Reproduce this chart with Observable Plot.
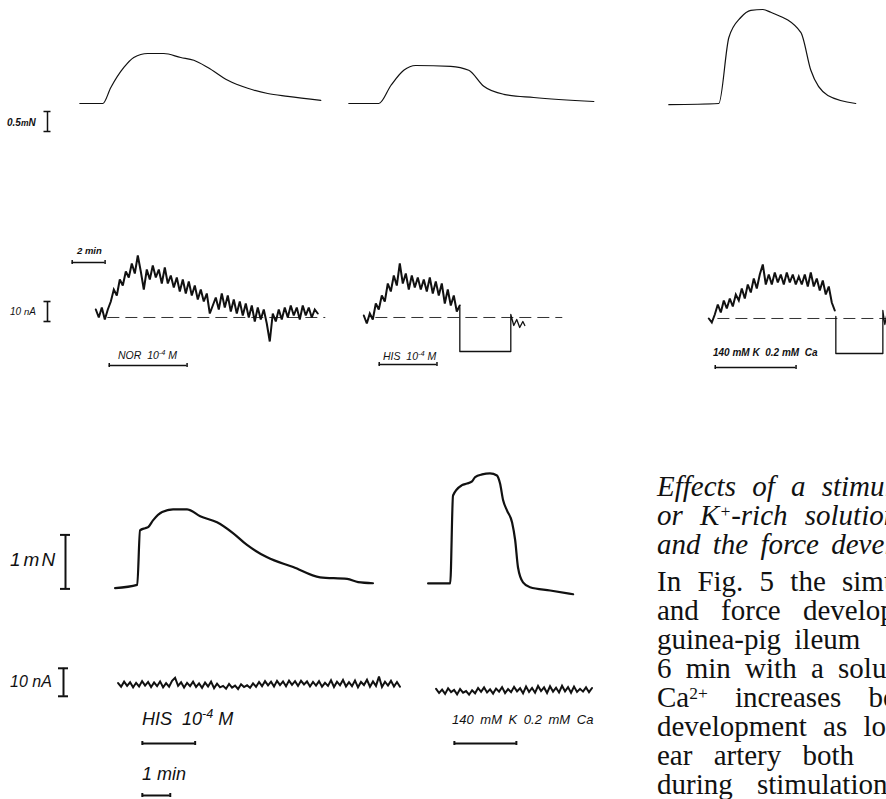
<!DOCTYPE html>
<html><head><meta charset="utf-8">
<script src="https://cdn.jsdelivr.net/npm/d3@7"></script>
<script src="https://cdn.jsdelivr.net/npm/@observablehq/plot@0.6"></script>
<style>
body{margin:0;background:#fff;}
#fig{position:relative;width:886px;height:799px;overflow:hidden;background:#fff;}
.lab{position:absolute;font-family:"Liberation Sans",Arial,sans-serif;font-style:italic;color:#111;white-space:nowrap;line-height:1;}
.lab sup{font-size:0.7em;vertical-align:0.55em;line-height:0;}
.txt{position:absolute;left:657px;font-family:"Liberation Serif","Times New Roman",serif;color:#111;white-space:nowrap;line-height:1;}
.txt sup{font-size:0.6em;vertical-align:0.45em;line-height:0;}
</style></head><body><div id="fig"></div>
<script>
// ---------- DATA ----------
// Top row: force (mN) vs time (min)
const forceNOR_t = [0,1.39,1.88,2.67,3.27,4.12,5.09,6.12,6.91,7.76,8.97,10.18,11.39,12.61,14.61];
const forceNOR_f = [0,0,0.40,0.90,1.15,1.25,1.25,1.15,1.08,0.90,0.58,0.38,0.25,0.18,0.08];
const forceHIS_t = [0,1.82,2.55,3.33,4.06,6.18,7.27,8.18,9.39,11.21,14.85];
const forceHIS_f = [0,0,0.45,0.83,0.95,0.93,0.83,0.43,0.23,0.15,0.05];
const forceK_t = [0,3.03,3.64,4.36,4.97,5.70,6.18,8.0,8.61,9.64,11.33];
const forceK_f = [-0.03,0,1.65,2.15,2.33,2.35,2.28,1.78,0.83,0.20,0];

// Top row: membrane current (nA), sampled every 0.18 min
const dtTop = 0.1818;
const curNOR = [4,0,5,-1,4,8,14,11,19,16, 23,20,27,22,31,23,14,24,19,26, 20,24,17,25,17,21,15,20,13,19,
  12,18,11,16,9,14,8,12,2,6, 10,4,12,5,11,3,9,2,8,1, 7,0,6,-2,5,-1,4,-3,-12,2, -2,4,-1,5,0,6,1,5,-1,6, 1,5,0,4,2];
const curHIS = [1,-3,2,-1,7,4,11,8,17,13, 21,16,27,17,22,14,21,15,20,14, 19,13,20,12,18,11,17,7,14,6, 11,3,6];
const curHISstep_t = [5.82,5.82,8.91,8.91,9.09,9.27,9.45,9.64,9.76];
const curHISstep_v = [5,-17,-17,1.5,-4,-1,-5,-2,-4];
const curK = [0,-2,2,7,3,9,5,10,6,12, 9,15,10,17,13,20,15,22,27,17, 22,17,23,18,22,17,23,18,22,17,
  21,17,22,16,23,16,20,14,19,12, 16,8,4];
const curKstep_t = [7.70,7.70,10.55,10.55,10.67,10.79];
const curKstep_v = [1,-17.5,-17.5,4,-3,2];
const baseNOR = [0.73,13.94], baseHIS = [0.73,12.06], baseK = [0.55,10.79];
const stimNOR = [0.85,5.58], stimHIS = [0.97,4.48], stimK = [0.42,5.33];

// Bottom: force (mN) vs time (min)
const forceHIS2_t = [0,0.79,0.89,1.07,1.18,1.36,1.68,2.07,2.57,3.04,3.64,4.21,4.71,5.43,6.36,7.32,8.29,8.68,9.21];
const forceHIS2_f = [0,0.06,1.07,1.11,1.13,1.26,1.41,1.46,1.46,1.33,1.22,1.02,0.80,0.57,0.39,0.20,0.17,0.11,0.09];
const forceK2_t = [0,0.79,0.89,1.21,1.39,1.57,1.68,1.93,2.21,2.46,2.57,2.68,2.82,3.0,3.11,3.21,3.39,3.64,4.36,5.18];
const forceK2_f = [0.09,0.09,1.72,1.91,1.94,1.98,2.06,2.11,2.13,2.09,1.94,1.63,1.44,1.22,0.89,0.39,0.11,0.02,-0.04,-0.11];
// Bottom: current (nA), sampled every 0.107 min
const dtBot = 0.1071;
const curHIS2 = [0.5,-0.8,1.0,-0.5,0.8,-1.0,0.6,-0.7,1.2,-0.4, 0.9,-0.9,0.7,-0.6,1.1,-1.0,0.5,-0.8,1.3,2.4,
  -0.5,0.8,-1.1,0.6,-0.6,1.0,-0.9,0.4,-1.2,0.7, -0.7,1.0,-1.3,0.3,-1.0,-0.5,-1.5,0.2,-1.1,-0.4,
  -1.6,0.1,-0.9,-0.3,-1.2,0.4,-0.8,0.9,-0.6,1.2, -0.3,1.0,-0.7,1.3,-0.2,1.1,-0.6,1.4,-0.1,1.2,
  -0.5,1.3,0.0,1.1,-0.7,0.9,-0.4,1.2,-0.8,0.6, -0.5,1.5,-0.9,1.0,-0.3,1.6,-0.7,0.8,-0.6,1.4,
  -1.0,0.9,-0.2,1.7,-0.8,1.1,-0.5,2.8,-0.9,1.0, -0.4,1.3,-0.7,0.9,-0.8];
const curK2 = [0.6,-0.9,0.3,-1.2,0.8,-0.6,0.2,-1.4,0.5,-0.8, -0.2,-1.5,0.1,-1.0,0.9,-0.5,1.1,-0.7,0.4,-1.1,
  0.7,-0.4,1.2,-0.9,0.5,-0.6,1.3,-0.3,0.8,-1.0, 1.4,-0.5,0.9,-0.8,1.6,-0.2,1.1,-0.9,1.5,-0.4,
  1.0,-0.7,1.7,-0.3,1.2,-0.8,1.4,-0.5,0.6,-0.4,1.1,-0.6,0.9];
const stimHIS2 = [0.86,2.75], stimK2 = [0.64,2.86];

// Scale bars
const barForceTop = 0.5, barCurTop = 10, barTimeTop = 2;
const barForceBot = 1, barCurBot = 10, barTimeBot = 1;

// Text column
const captionLines = ["Effects of a stimulation", "or K<sup>+</sup>-rich solution", "and the force development"];
const bodyLines = ["In Fig. 5 the simultaneous", "and force development", "guinea-pig ileum", "6 min with a solution",
  "Ca<sup>2+</sup> increases both", "development as long", "ear artery both", "during stimulation"];

// ---------- LAYOUT (pixels) ----------
const TOP = {kx:16.5, kf:40, ki:2};
const BOT = {kx:28, kf:54, ki:2.8};
const fig = document.getElementById("fig");
const INK = "#111";

function panel(o){
  const w = (o.xd[1]-o.xd[0])*o.kx, h = (o.yd[1]-o.yd[0])*o.ky;
  const svg = Plot.plot({
    width: w, height: h, margin: 0,
    x: {domain: o.xd, axis: null}, y: {domain: o.yd, axis: null},
    style: {background: "transparent", overflow: "visible", position: "absolute",
      left: (o.x0 + o.xd[0]*o.kx) + "px", top: (o.y0 - o.yd[1]*o.ky) + "px", maxWidth: "none"},
    marks: o.marks
  });
  fig.appendChild(svg);
}
const idxT = (vals, dt) => vals.map((_, i) => i*dt);

function forcePanel(t, f, x0, y0, S, sw){
  panel({x0, y0, kx:S.kx, ky:S.kf, xd:[-0.2, d3.max(t)+0.2], yd:[-0.3, d3.max(f)+0.2],
    marks:[Plot.line(t, {x: t, y: f, stroke: INK, strokeWidth: sw, curve: "monotone-x"})]});
}
function currentPanel(vals, dt, x0, y0, S, sw, base, extra){
  const t = idxT(vals, dt);
  const marks = [];
  if (base) marks.push(Plot.ruleY([0], {x1: base[0], x2: base[1], stroke: "#333", strokeWidth: 1, strokeDasharray: "12,6"}));
  marks.push(Plot.line(vals, {x: t, y: vals, stroke: INK, strokeWidth: sw, strokeLinejoin: "miter", strokeMiterlimit: 3}));
  if (extra) marks.push(Plot.line(extra[0], {x: extra[0], y: extra[1], stroke: INK, strokeWidth: 1.3}));
  const xmax = Math.max(d3.max(t), base ? base[1] : 0, extra ? d3.max(extra[0]) : 0);
  panel({x0, y0, kx:S.kx, ky:S.ki, xd:[-0.2, xmax+0.2], yd:[-25, 35], marks});
}
function hBar(span, x0, y0, kx, sw){
  panel({x0, y0, kx, ky:1, xd:[span[0]-0.1, span[1]+0.1], yd:[-3,3], marks:[
    Plot.ruleY([0], {x1: span[0], x2: span[1], stroke: INK, strokeWidth: sw}),
    Plot.ruleX(span, {y1: -2, y2: 2, stroke: INK, strokeWidth: sw})
  ]});
}
function vBar(len, x0, y0, ky, sw, serif){
  panel({x0, y0, kx:1, ky, xd:[-6,6], yd:[-0.1*len, 1.1*len], marks:[
    Plot.ruleX([0], {y1: 0, y2: len, stroke: INK, strokeWidth: sw}),
    Plot.ruleY([0, len], {x1: -serif, x2: serif, stroke: INK, strokeWidth: sw})
  ]});
}
function lab(html, left, cy, fs, extra){
  const d = document.createElement("div");
  d.className = "lab"; d.innerHTML = html;
  d.style.left = left + "px"; d.style.top = (cy - fs*0.55) + "px"; d.style.fontSize = fs + "px";
  if (extra) Object.assign(d.style, extra);
  fig.appendChild(d);
}

// ---------- TOP ROW ----------
forcePanel(forceNOR_t, forceNOR_f, 79, 103, TOP, 1.2);
forcePanel(forceHIS_t, forceHIS_f, 348, 103, TOP, 1.2);
forcePanel(forceK_t, forceK_f, 668, 103, TOP, 1.2);
vBar(barForceTop, 47, 131, TOP.kf, 1.5, 3.5);
lab("0.5<span style='font-size:0.85em'>m</span>N", 7, 123, 10, {fontWeight:"bold"});

currentPanel(curNOR, dtTop, 95, 317, TOP, 2.0, baseNOR);
currentPanel(curHIS, dtTop, 363, 317, TOP, 2.0, baseHIS, [curHISstep_t, curHISstep_v]);
currentPanel(curK, dtTop, 708, 318, TOP, 2.0, baseK, [curKstep_t, curKstep_v]);
vBar(barCurTop, 47, 321, TOP.ki, 1.6, 3.5);
lab("10 <span style='font-size:0.95em'>n</span>A", 10, 312, 10);
hBar([0, barTimeTop], 72, 262, TOP.kx, 1.5);
lab("2 min", 77, 251, 9.5, {fontWeight:"bold"});

hBar(stimNOR, 95, 365, TOP.kx, 1.5);
lab("NOR&nbsp; 10<sup>-4</sup> M", 118, 356, 10.5);
hBar(stimHIS, 363, 364, TOP.kx, 1.5);
lab("HIS&nbsp; 10<sup>-4</sup> M", 383, 357, 10.5);
hBar(stimK, 708, 367, TOP.kx, 1.5);
lab("140 mM K&nbsp; 0.2 mM&nbsp; Ca", 713, 353, 10, {fontWeight:"bold"});

// ---------- BOTTOM ----------
forcePanel(forceHIS2_t, forceHIS2_f, 115, 588, BOT, 2.2);
forcePanel(forceK2_t, forceK2_f, 428, 588, BOT, 2.2);
vBar(barForceBot, 65, 588, BOT.kf, 2, 5);
lab("1<span style='margin-left:3px'>m</span><span style='margin-left:2px'>N</span>", 10, 560, 19);

currentPanel(curHIS2, dtBot, 118, 684, BOT, 2.0);
currentPanel(curK2, dtBot, 436, 690, BOT, 2.0);
vBar(barCurBot, 63, 696, BOT.ki, 2, 5);
lab("10 nA", 10, 683, 16);

hBar(stimHIS2, 118, 743, BOT.kx, 2);
lab("HIS&nbsp; 10<sup>-4</sup> M", 142, 720, 18);
hBar(stimK2, 436, 743, BOT.kx, 2);
lab("140 mM K 0.2 mM Ca", 452, 720, 13, {wordSpacing: "3px"});
hBar([0, barTimeBot], 142, 795, BOT.kx, 2);
lab("1 min", 142, 775, 18);

// ---------- RIGHT TEXT COLUMN (clipped by page edge) ----------
const FS = 29;
const capCenters = [488, 517, 546], capWS = [9, 10, 5];
const bodyCenters = [583, 612, 641, 670, 699, 728, 757, 786], bodyWS = [9, 15, 6, 7, 20, 9, 14, 17];
function textLine(html, cy, ws, italic){
  const d = document.createElement("div"); d.className = "txt";
  d.innerHTML = html; d.style.fontSize = FS + "px";
  d.style.top = (cy - FS*0.55) + "px"; d.style.wordSpacing = ws + "px";
  if (italic) d.style.fontStyle = "italic";
  fig.appendChild(d);
}
captionLines.forEach((s, i) => textLine(s, capCenters[i], capWS[i], true));
bodyLines.forEach((s, i) => textLine(s, bodyCenters[i], bodyWS[i], false));
</script></body></html>
